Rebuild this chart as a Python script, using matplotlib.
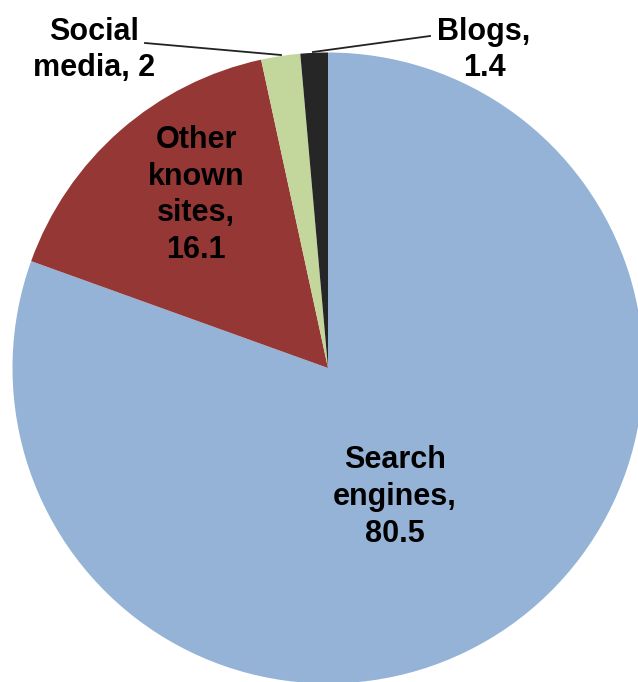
import matplotlib
matplotlib.use('Agg')
import matplotlib.pyplot as plt

# Traffic sources (share, %)
labels = ['Search\nengines,\n80.5', 'Other\nknown\nsites,\n16.1', 'Social\nmedia, 2', 'Blogs,\n1.4']
values = [80.5, 16.1, 2.0, 1.4]
colors = ['#95b3d7', '#953735', '#c3d69b', '#262626']

W, H = 638, 682
cx, cy, r = 328, 368, 315.5  # pie centre / radius in pixels


def px(x, y):
    # pixel coords (from top-left) -> data coords of the pie
    return (x - cx) / r, (cy - y) / r


plt.rcParams['font.family'] = ['Liberation Sans', 'DejaVu Sans']
fig = plt.figure(figsize=(W / 100, H / 100), dpi=100)
ax = fig.add_axes([0, 0, 1, 1])
ax.pie(values, colors=colors, startangle=90, counterclock=False,
       radius=1, wedgeprops={'linewidth': 0})
ax.set_xlim(px(0, 0)[0], px(W, 0)[0])
ax.set_ylim(px(0, H)[1], px(0, 0)[1])
ax.set_aspect('auto')
ax.axis('off')

txt = dict(ha='center', va='center', fontsize=22, fontweight='bold',
           color='black', linespacing=1.3)
ax.text(*px(395, 497), labels[0], **txt)
ax.text(*px(196, 195), labels[1], **txt)
ax.text(*px(94, 50), labels[2], **txt)
ax.text(*px(484, 50), labels[3], **txt)

# leader lines
ax.plot([px(145, 43)[0], px(281, 55)[0]], [px(145, 43)[1], px(281, 55)[1]],
        color='#222222', lw=1.3)
ax.plot([px(313, 52)[0], px(430, 36)[0]], [px(313, 52)[1], px(430, 36)[1]],
        color='#222222', lw=1.3)

fig.savefig('out.png', dpi=100)
